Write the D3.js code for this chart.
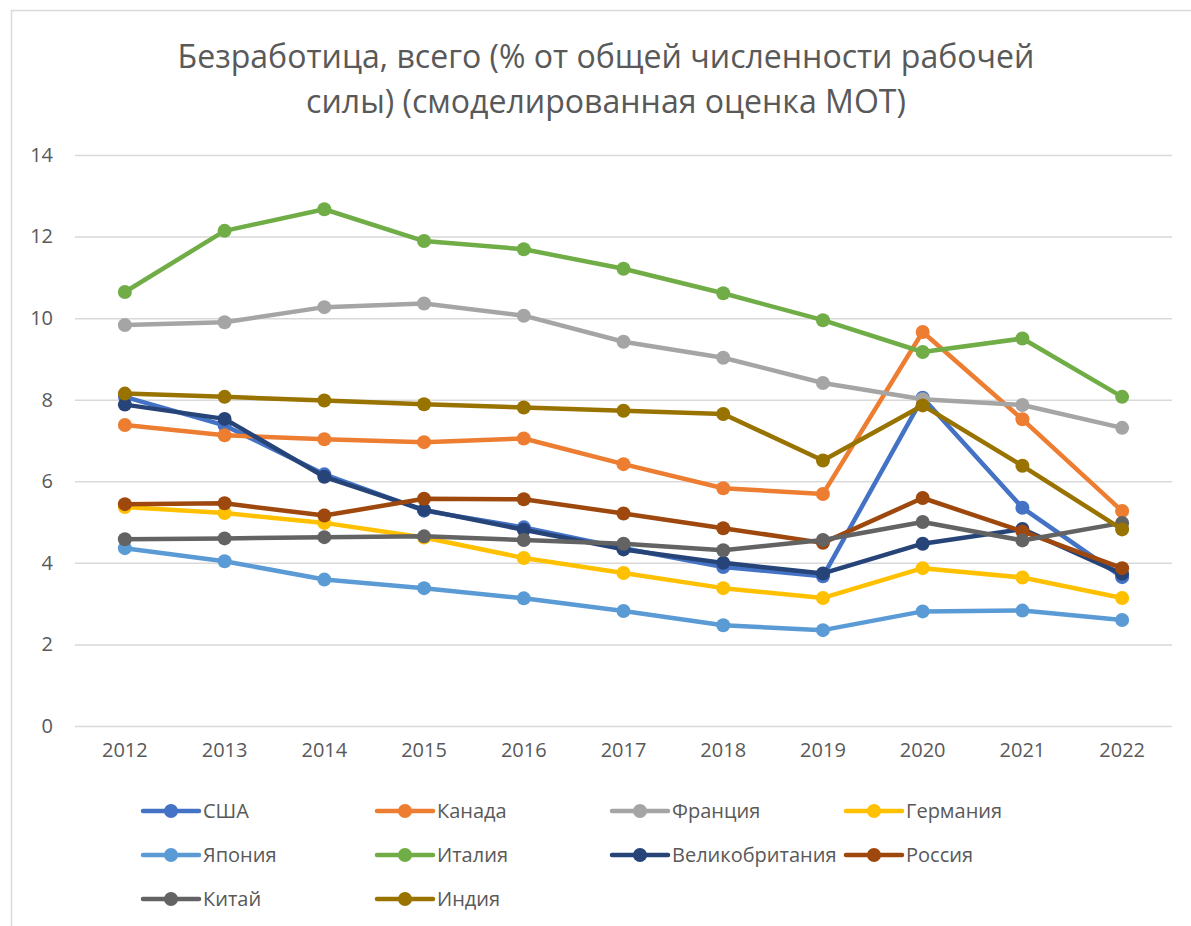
<!DOCTYPE html>
<html><head><meta charset="utf-8">
<script src="https://cdn.jsdelivr.net/npm/d3@7/dist/d3.min.js"></script>
<style>
html,body{margin:0;padding:0;background:#fff;}
svg text{font-family:"Open Sans","Noto Sans",sans-serif;fill:#595959;}
</style></head>
<body><svg id="c" width="1191" height="926"></svg>
<script>
const years = ["2012","2013","2014","2015","2016","2017","2018","2019","2020","2021","2022"];
const yTicks = [0,2,4,6,8,10,12,14];
const titleLines = ["Безработица, всего (% от общей численности рабочей","силы) (смоделированная оценка МОТ)"];
const seriesNames = ["США","Канада","Франция","Германия","Япония","Италия","Великобритания","Россия","Китай","Индия"];
const seriesColors = ["#4472C4","#ED7D31","#A5A5A5","#FFC000","#5B9BD5","#70AD47","#264478","#9E480E","#636363","#997300"];
const usa     = [8.07,7.37,6.17,5.28,4.87,4.36,3.90,3.67,8.05,5.35,3.65];
const canada  = [7.38,7.13,7.03,6.96,7.05,6.42,5.83,5.69,9.66,7.52,5.27];
const france  = [9.83,9.90,10.27,10.36,10.06,9.42,9.03,8.41,8.01,7.87,7.31];
const germany = [5.37,5.22,4.98,4.62,4.12,3.75,3.38,3.14,3.87,3.64,3.14];
const japan   = [4.36,4.04,3.59,3.38,3.13,2.82,2.47,2.35,2.81,2.83,2.60];
const italy   = [10.64,12.14,12.67,11.89,11.69,11.21,10.61,9.95,9.17,9.50,8.07];
const uk      = [7.88,7.53,6.11,5.30,4.81,4.33,4.00,3.74,4.47,4.83,3.73];
const russia  = [5.44,5.46,5.16,5.57,5.56,5.21,4.85,4.49,5.59,4.77,3.87];
const china   = [4.58,4.60,4.63,4.65,4.56,4.47,4.31,4.56,5.00,4.55,4.98];
const india   = [8.15,8.07,7.98,7.89,7.81,7.73,7.65,6.51,7.86,6.38,4.82];
const seriesValues = [usa,canada,france,germany,japan,italy,uk,russia,china,india];

const svg = d3.select("#c");
svg.append("rect").attr("x",11.5).attr("y",10.5).attr("width",1200).attr("height",1000)
  .attr("fill","#fff").attr("stroke","#D9D9D9").attr("stroke-width",1.5);

const x = d3.scaleBand().domain(years).range([75,1172]);
const y = d3.scaleLinear().domain([0,14]).range([726,155]);

const tg = svg.append("g");
titleLines.forEach((t,i)=>{
  tg.append("text").attr("x",606).attr("y",68+i*45).attr("text-anchor","middle")
    .style("font-size","30px").text(t);
});
const t0 = tg.select("text").node();
const w0 = t0.getComputedTextLength();
const fs = 30*857/w0;
tg.selectAll("text").style("font-size",fs+"px");

svg.append("g").selectAll("line").data(yTicks).join("line")
  .attr("x1",75).attr("x2",1172).attr("y1",d=>y(d)+0.5).attr("y2",d=>y(d)+0.5)
  .attr("stroke","#D9D9D9").attr("stroke-width",1.5);

const ya = svg.append("g").attr("transform","translate(53,0)")
  .call(d3.axisLeft(y).tickValues(yTicks).tickSize(0).tickPadding(0));
ya.select(".domain").remove();
ya.selectAll("text").style("font-size","20px").attr("fill","#595959");

const xa = svg.append("g").attr("transform","translate(0,743)")
  .call(d3.axisBottom(x).tickSize(0).tickPadding(0));
xa.select(".domain").remove();
xa.selectAll("text").style("font-size","20px").attr("fill","#595959");

const line = d3.line().x((d,i)=>x(years[i])+x.bandwidth()/2).y(d=>y(d));
seriesValues.forEach((vals,si)=>{
  const g = svg.append("g");
  g.append("path").datum(vals).attr("d",line).attr("fill","none")
    .attr("stroke",seriesColors[si]).attr("stroke-width",4.5).attr("stroke-linejoin","round").attr("stroke-linecap","round");
  g.selectAll("circle").data(vals).join("circle")
    .attr("cx",(d,i)=>x(years[i])+x.bandwidth()/2).attr("cy",d=>y(d)).attr("r",7)
    .attr("fill",seriesColors[si]);
});

const colX = [143,377,612,846];
const rowY = [811,855,899];
seriesNames.forEach((n,i)=>{
  const lx = colX[i%4], ly = rowY[Math.floor(i/4)];
  const g = svg.append("g");
  g.append("line").attr("x1",lx).attr("x2",lx+56).attr("y1",ly).attr("y2",ly)
    .attr("stroke",seriesColors[i]).attr("stroke-width",4.5).attr("stroke-linecap","round");
  g.append("circle").attr("cx",lx+28).attr("cy",ly).attr("r",7).attr("fill",seriesColors[i]);
  g.append("text").attr("x",lx+60).attr("y",ly).attr("dy","0.35em").style("font-size","20px").text(n);
});
</script></body></html>
